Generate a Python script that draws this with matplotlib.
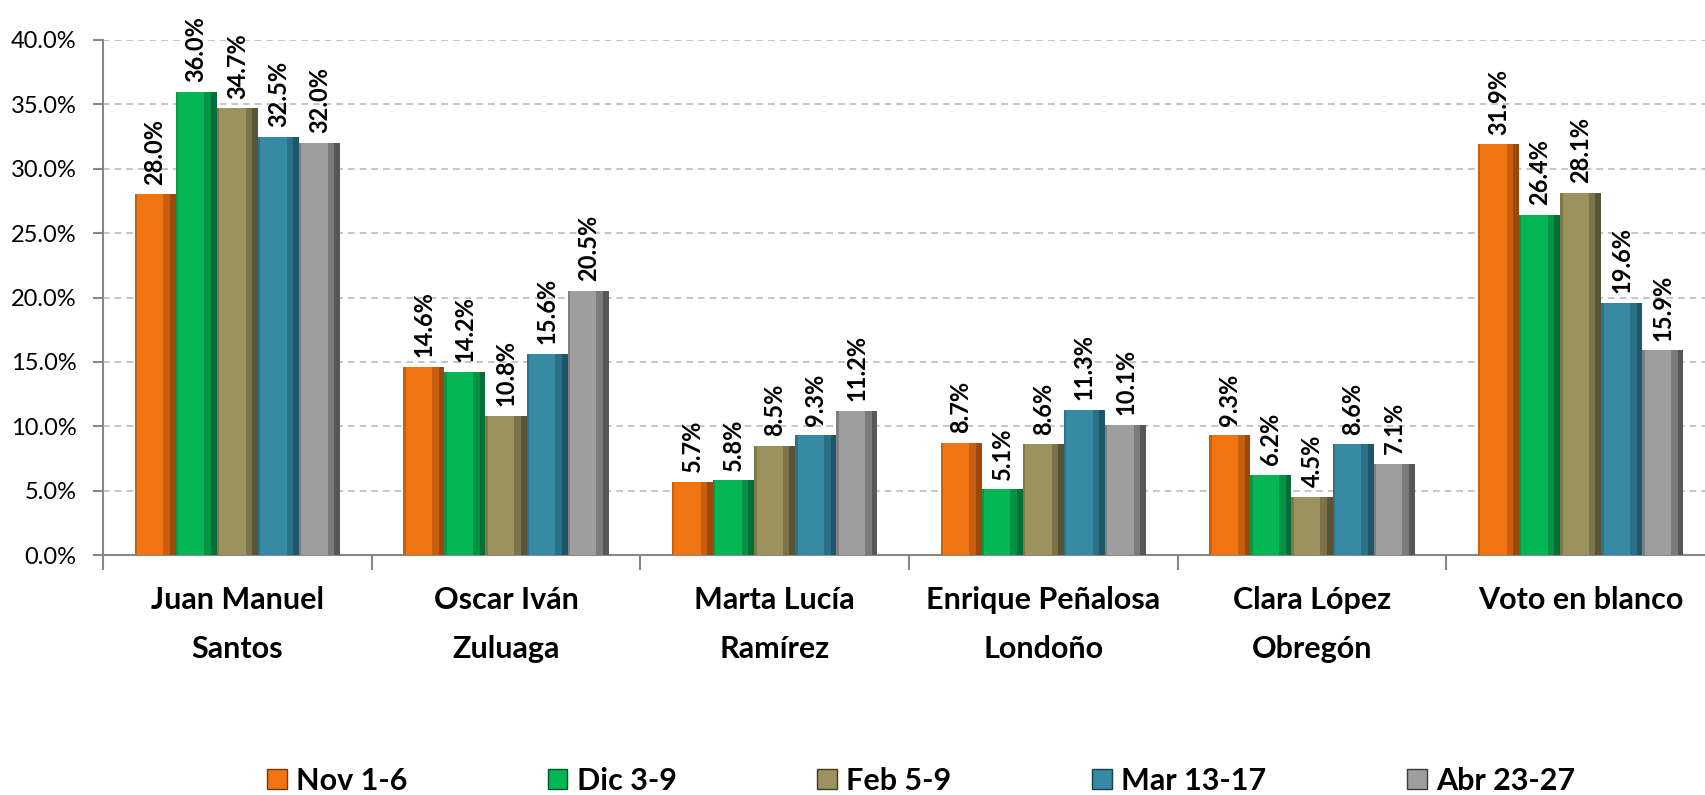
import matplotlib.pyplot as plt
import matplotlib.patches as mpatches
import numpy as np

categories = ["Juan Manuel\nSantos", "Oscar Iván\nZuluaga", "Marta Lucía\nRamírez",
              "Enrique Peñalosa\nLondoño", "Clara López\nObregón", "Voto en blanco"]
series = ["Nov 1-6", "Dic 3-9", "Feb 5-9", "Mar 13-17", "Abr 23-27"]
nov = [28.0, 14.6, 5.7, 8.7, 9.3, 31.9]
dic = [36.0, 14.2, 5.8, 5.1, 6.2, 26.4]
feb = [34.7, 10.8, 8.5, 8.6, 4.5, 28.1]
mar = [32.5, 15.6, 9.3, 11.3, 8.6, 19.6]
abr = [32.0, 20.5, 11.2, 10.1, 7.1, 15.9]

colors = ["#F07412", "#05B754", "#9C925E", "#368AA4", "#9E9E9E"]
darks = ["#7A3604", "#03522A", "#403B26", "#15404E", "#3A3A3A"]

plt.rcParams['font.family'] = ['Lato', 'DejaVu Sans']

fig = plt.figure(figsize=(17.05, 7.95), dpi=100)
ax = fig.add_axes([103/1705, 1-555/795, 1612/1705, (555-40)/795])

x = np.arange(len(categories))
w = 0.153
data = [nov, dic, feb, mar, abr]
for i, vals in enumerate(data):
    v = np.array(vals) / 100
    pos = x + (i - 2) * w
    ax.bar(pos, v, w, color=colors[i], edgecolor="none", zorder=3)
    # rough bevel: shaded right side, thin dark left edge
    ax.bar(pos + w * 0.35, v, w * 0.30, color=darks[i], alpha=0.35, edgecolor="none", zorder=4)
    ax.bar(pos + w * 0.43, v, w * 0.14, color=darks[i], alpha=0.55, edgecolor="none", zorder=4)
    ax.bar(pos - w * 0.47, v, w * 0.06, color=darks[i], alpha=0.3, edgecolor="none", zorder=4)
    for p, val in zip(pos, vals):
        ax.annotate(f"{val:.1f}%", (p, val / 100), xytext=(0, 7), textcoords="offset points",
                    rotation=90, ha="center", va="bottom", fontsize=17, fontweight="bold",
                    zorder=5)

ax.set_ylim(0, 0.40)
ax.set_xlim(-0.5, 5.5)
ticks = np.arange(0, 0.401, 0.05)
ax.set_yticks(ticks)
ax.set_yticklabels([f"{t*100:.1f}%" for t in ticks], fontsize=17)
ax.yaxis.grid(True, linestyle=(0, (4, 3)), color="#BBBBBB", linewidth=1.2, zorder=0)

ax.set_xticks(np.arange(-0.5, 6, 1))
ax.set_xticklabels([])
ax.set_xticks(x, minor=True)
ax.set_xticklabels(categories, minor=True, fontsize=22, fontweight="bold", linespacing=1.95)
ax.tick_params(axis="x", which="minor", length=0, pad=22)
ax.tick_params(axis="x", which="major", length=11, width=1.5, color="#888888")
ax.tick_params(axis="y", length=7, width=1.5, color="#888888", pad=12)

for s in ["top", "right"]:
    ax.spines[s].set_visible(False)
for s in ["left", "bottom"]:
    ax.spines[s].set_color("#888888")
    ax.spines[s].set_linewidth(1.5)

handles = [mpatches.Patch(facecolor=c, edgecolor=d, linewidth=1) for c, d in zip(colors, darks)]
fig.legend(handles, series, loc="center", bbox_to_anchor=(0.540, 1-781/795), ncol=5,
           frameon=False, prop={"size": 22, "weight": "bold"}, handlelength=0.65,
           handleheight=0.65, handletextpad=0.3, columnspacing=4.6)

fig.savefig("out.png", dpi=100)
